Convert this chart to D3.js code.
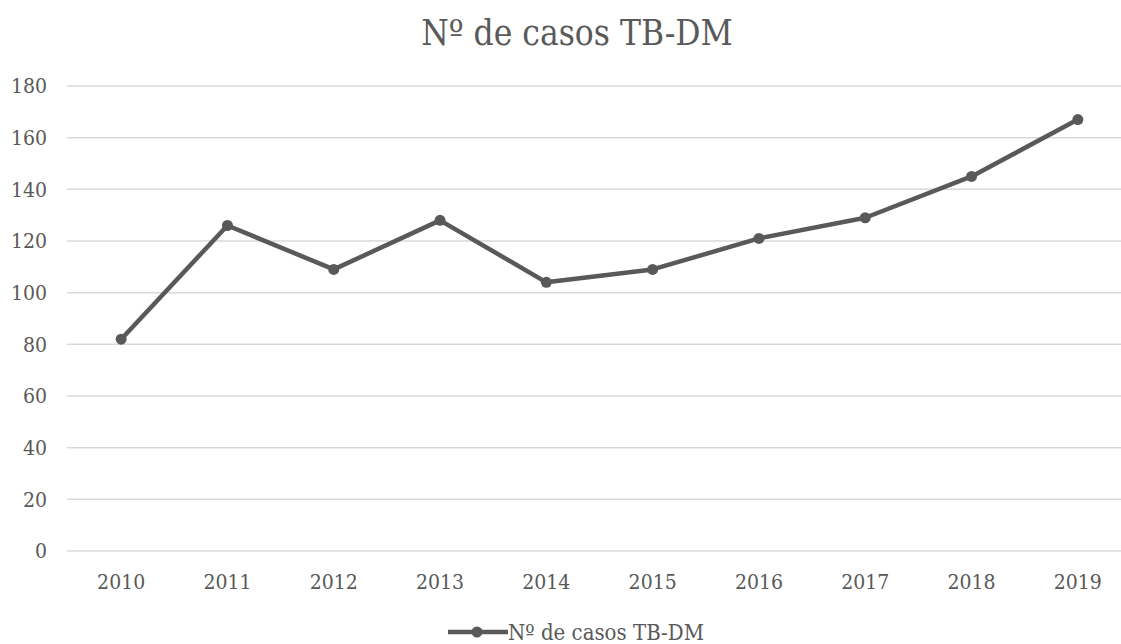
<!DOCTYPE html>
<html>
<head>
<meta charset="utf-8">
<script src="https://cdn.jsdelivr.net/npm/d3@7"></script>
<style>
  html, body { margin: 0; padding: 0; background: #fff; }
  svg text { font-family: "DejaVu Serif Condensed", "DejaVu Serif", serif; font-stretch: condensed; }
</style>
</head>
<body>
<svg id="chart" width="1121" height="644"></svg>
<script>
const titleText = "Nº de casos TB-DM";
const seriesName = "Nº de casos TB-DM";
const years = ["2010","2011","2012","2013","2014","2015","2016","2017","2018","2019"];
const cases = [82, 126, 109, 128, 104, 109, 121, 129, 145, 167];
const yTicks = [0, 20, 40, 60, 80, 100, 120, 140, 160, 180];

(function () {
const svg = d3.select("#chart");
const plotLeft = 68, plotRight = 1131, plotTop = 86, plotBottom = 551;

const x = d3.scaleBand().domain(years).range([plotLeft, plotRight]).padding(0);
const y = d3.scaleLinear().domain([0, 180]).range([plotBottom, plotTop]);
const cx = d => x(d) + x.bandwidth() / 2;

svg.append("g").selectAll("line").data(yTicks).join("line")
  .attr("x1", plotLeft - 1).attr("x2", plotRight)
  .attr("y1", d => y(d)).attr("y2", d => y(d))
  .attr("stroke", "#d9d9d9").attr("stroke-width", 1.5);

const yAxis = d3.axisLeft(y).tickValues(yTicks).tickSize(0).tickPadding(0);
const gy = svg.append("g").attr("transform", "translate(47,0)").call(yAxis);
gy.select(".domain").remove();
gy.attr("font-family", null);
gy.selectAll("text").attr("font-size", 21).attr("fill", "#595959");

const xAxis = d3.axisBottom(x).tickSize(0).tickPadding(0);
const gx = svg.append("g").attr("transform", `translate(0,${plotBottom})`).call(xAxis);
gx.select(".domain").remove();
gx.attr("font-family", null);
gx.selectAll("text").attr("font-size", 21).attr("fill", "#595959")
  .attr("dy", null).attr("y", 38);

const line = d3.line().x((d, i) => cx(years[i])).y(d => y(d));
svg.append("path").datum(cases)
  .attr("d", line).attr("fill", "none")
  .attr("stroke", "#595959").attr("stroke-width", 4.5)
  .attr("stroke-linejoin", "round").attr("stroke-linecap", "round");

svg.append("g").selectAll("circle").data(cases).join("circle")
  .attr("cx", (d, i) => cx(years[i])).attr("cy", d => y(d))
  .attr("r", 5.5).attr("fill", "#595959");

svg.append("text").attr("x", 577).attr("y", 45)
  .attr("text-anchor", "middle").attr("font-size", 35)
  .attr("fill", "#595959").text(titleText);

const lg = svg.append("g");
lg.append("line").attr("x1", 448).attr("x2", 508).attr("y1", 632).attr("y2", 632)
  .attr("stroke", "#595959").attr("stroke-width", 4.5);
lg.append("circle").attr("cx", 477).attr("cy", 632).attr("r", 5.5).attr("fill", "#595959");
lg.append("text").attr("x", 508).attr("y", 640).attr("font-size", 22)
  .attr("fill", "#595959").text(seriesName);
})();
</script>
</body>
</html>
